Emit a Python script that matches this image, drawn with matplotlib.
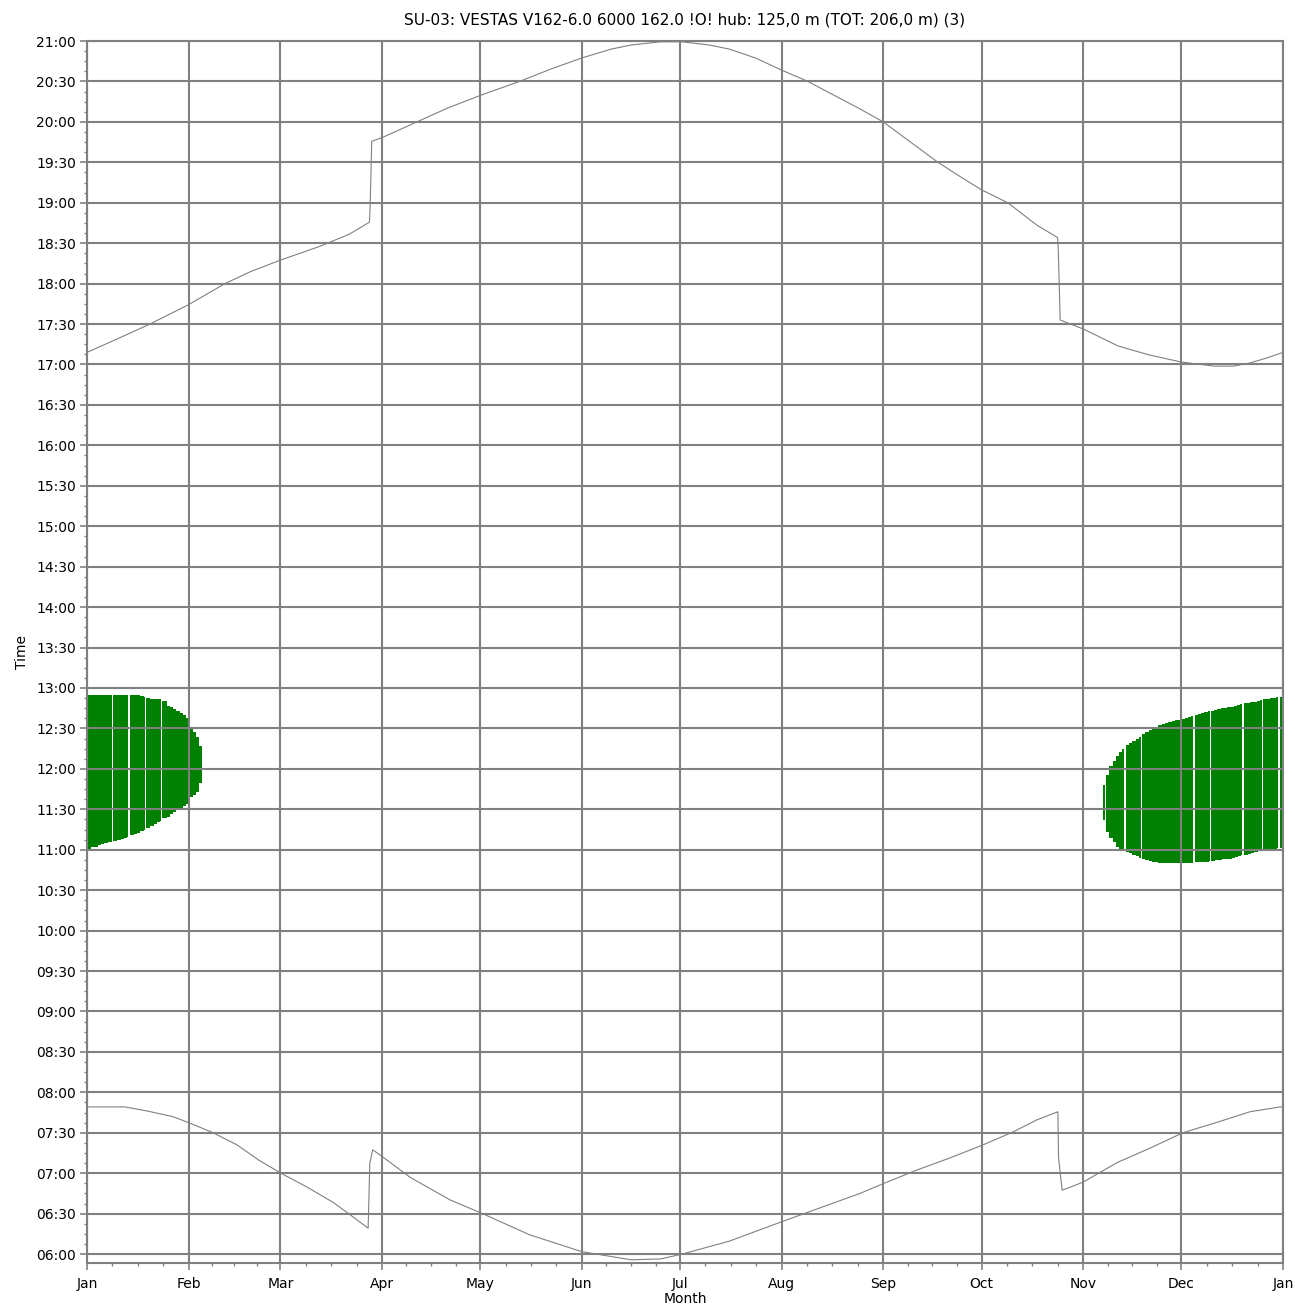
import numpy as np
import matplotlib.pyplot as plt
from matplotlib.ticker import FixedLocator, FuncFormatter, MultipleLocator

# Month boundaries (day of year, non-leap year) and labels
month_days = [0, 31, 59, 90, 120, 151, 181, 212, 243, 273, 304, 334, 365]
month_labels = ['Jan', 'Feb', 'Mar', 'Apr', 'May', 'Jun', 'Jul',
                'Aug', 'Sep', 'Oct', 'Nov', 'Dec', 'Jan']

# Sunset (hours, local clock time incl. summer time)
sunset_day = [0, 10, 19.2, 31, 42.1, 50, 59, 71, 80, 86.2, 86.4, 86.9, 90.3,
              100.7, 110, 120.2, 132, 142, 151, 160, 166, 175, 181.6, 190,
              196, 204, 212, 220, 227, 235, 243, 251, 259.7, 267, 273, 281,
              290, 296.2, 296.4, 297.0, 304, 314.6, 324, 334, 344, 350, 355,
              360, 365]
sunset_time = [17.15, 17.33, 17.50, 17.74, 18.00, 18.15, 18.29, 18.46, 18.61,
               18.76, 18.94, 19.76, 19.81, 20.00, 20.17, 20.33, 20.50, 20.66,
               20.79, 20.90, 20.95, 20.99, 20.99, 20.95, 20.90, 20.79, 20.64,
               20.50, 20.35, 20.18, 20.00, 19.76, 19.50, 19.31, 19.16, 19.00,
               18.72, 18.57, 18.44, 17.55, 17.44, 17.23, 17.12, 17.03, 16.98,
               16.98, 17.02, 17.08, 17.15]

# Sunrise
sunrise_day = [0, 11.6, 18.3, 26.2, 31.4, 38.5, 45.8, 52.5, 59.2, 67.1, 75.1,
               81.2, 85.8, 86.3, 87.2, 90.3, 98.6, 110.8, 120.2, 135, 151, 166,
               175, 181.6, 196, 212, 227, 235.9, 243.5, 253.3, 263.4, 273.4,
               282.6, 289.9, 296.3, 296.5, 297.6, 304, 314.3, 324.4, 334.4,
               344.9, 354.9, 364.1, 365]
sunrise_time = [7.82, 7.82, 7.77, 7.70, 7.62, 7.50, 7.35, 7.16, 7.00, 6.83,
                6.64, 6.46, 6.32, 7.12, 7.29, 7.20, 6.95, 6.67, 6.51, 6.24,
                6.03, 5.93, 5.94, 6.00, 6.16, 6.40, 6.62, 6.75, 6.88, 7.04,
                7.19, 7.35, 7.51, 7.66, 7.76, 7.19, 6.79, 6.89, 7.13, 7.31,
                7.50, 7.63, 7.76, 7.82, 7.82]

# Shadow flicker, January/February: start and end time per day
jan_days = list(range(0, 35))
jan_start = [11.01, 11.03, 11.04, 11.06, 11.07, 11.08, 11.09, 11.10, 11.11,
             11.12, 11.13, 11.15, 11.16, 11.18, 11.19, 11.21, 11.23, 11.25,
             11.27, 11.29, 11.32, 11.34, 11.36, 11.39, 11.41, 11.44, 11.47,
             11.50, 11.52, 11.54, 11.56, 11.65, 11.68, 11.71, 11.83]
jan_end = [12.91, 12.91, 12.91, 12.91, 12.91, 12.91, 12.91, 12.91, 12.91,
           12.91, 12.91, 12.91, 12.91, 12.91, 12.91, 12.91, 12.90, 12.89,
           12.88, 12.87, 12.86, 12.86, 12.86, 12.84, 12.78, 12.76, 12.74,
           12.71, 12.69, 12.66, 12.63, 12.51, 12.45, 12.39, 12.28]

# Shadow flicker, November/December
nov_days = list(range(310, 365))
nov_start = [11.37, 11.22, 11.14, 11.09, 11.04, 11.01, 10.99, 10.97, 10.96,
             10.94, 10.92, 10.90, 10.88, 10.87, 10.86, 10.85, 10.85, 10.84,
             10.84, 10.84, 10.84, 10.84, 10.84, 10.84, 10.84, 10.84, 10.84,
             10.84, 10.85, 10.85, 10.85, 10.85, 10.86, 10.86, 10.87, 10.87,
             10.88, 10.88, 10.89, 10.90, 10.91, 10.92, 10.93, 10.94, 10.95,
             10.96, 10.97, 10.98, 10.98, 10.99, 11.00, 11.00, 11.01, 11.02,
             11.02]
nov_end = [11.80, 11.92, 12.03, 12.10, 12.16, 12.21, 12.25, 12.29, 12.32,
           12.34, 12.37, 12.40, 12.43, 12.46, 12.48, 12.50, 12.52, 12.54,
           12.56, 12.57, 12.58, 12.59, 12.60, 12.61, 12.62, 12.63, 12.64,
           12.65, 12.66, 12.68, 12.69, 12.70, 12.71, 12.72, 12.73, 12.74,
           12.75, 12.75, 12.76, 12.77, 12.78, 12.79, 12.80, 12.81, 12.82,
           12.83, 12.83, 12.84, 12.85, 12.86, 12.87, 12.88, 12.88, 12.89,
           12.89]

# Days drawn narrower (white seam after them)
seam_days = [7, 12, 17, 22, 310, 316, 321, 337, 342, 352, 358, 363]

GRAY = '#808080'
GREEN = '#008000'


def hhmm(v, pos=None):
    m = int(round(v * 60))
    return '%02d:%02d' % (m // 60, m % 60)


fig = plt.figure(figsize=(12.95, 13.10), dpi=100)
ax = fig.add_axes([87/1295, 1 - 1263/1310, (1283 - 87)/1295, (1263 - 41)/1310])

# Shadow flicker bars; ordinary days overlap a little so no seams appear
for days, start, end in [(jan_days, jan_start, jan_end),
                         (nov_days, nov_start, nov_end)]:
    start = np.array(start)
    end = np.array(end)
    for d, s, e in zip(days, start, end):
        last = d == days[-1]
        w = 0.62 if d in seam_days else (1.0 if last else 1.3)
        ax.bar(d, e - s, bottom=s, width=w, align='edge',
               color=GREEN, linewidth=0, antialiased=False)

# Sunrise / sunset
ax.plot(sunset_day, sunset_time, color=GRAY, lw=0.8)
ax.plot(sunrise_day, sunrise_time, color=GRAY, lw=0.8)

ax.set_xlim(0, 365)
ax.set_ylim(5.89, 21.0)

ax.xaxis.set_major_locator(FixedLocator(month_days))
ax.set_xticklabels(month_labels)
minor_x = []
for a, b in zip(month_days[:-1], month_days[1:]):
    minor_x += [a + (b - a) * k / 4 for k in (1, 2, 3)]
ax.xaxis.set_minor_locator(FixedLocator(minor_x))

ax.yaxis.set_major_locator(FixedLocator(np.arange(6, 21.01, 0.5)))
ax.yaxis.set_major_formatter(FuncFormatter(hhmm))
ax.yaxis.set_minor_locator(MultipleLocator(0.125))

ax.grid(True, which='major', color=GRAY, lw=1.5)
for sp in ax.spines.values():
    sp.set_color(GRAY)
    sp.set_linewidth(1.5)

ax.tick_params(which='major', length=5, width=1.2, color=GRAY,
               labelsize=10, pad=3)
ax.tick_params(axis='x', which='major', pad=5)
ax.tick_params(which='minor', length=2.5, width=1, color=GRAY)

ax.set_xlabel('Month', fontsize=10, labelpad=1)
ax.set_ylabel('Time', fontsize=10, labelpad=5)
ax.set_title('SU-03: VESTAS V162-6.0 6000 162.0 !O! hub: 125,0 m (TOT: 206,0 m) (3)',
             fontsize=11, pad=12)

fig.savefig('out.png', dpi=100)
